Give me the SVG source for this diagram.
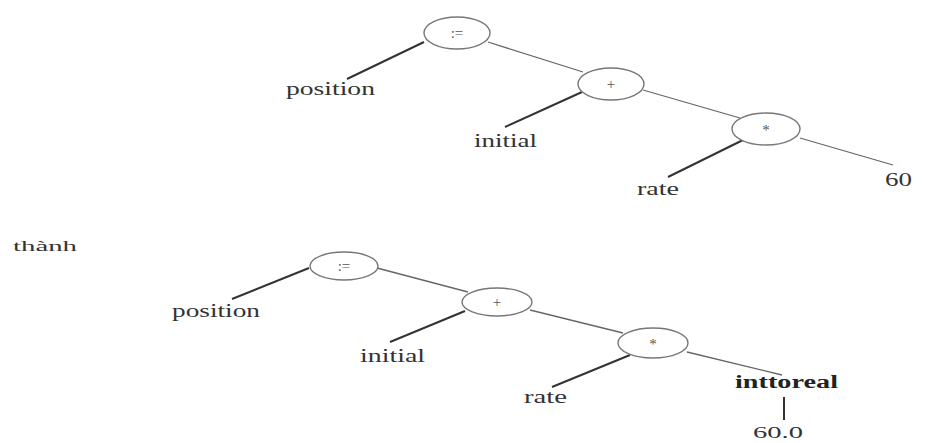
<svg xmlns="http://www.w3.org/2000/svg" width="938" height="443" viewBox="0 0 938 443">
<style>
.node ellipse{fill:#fff;stroke:#777;stroke-width:1.4}
.op{font-family:"Liberation Serif",serif;font-size:15px;fill:#555;text-anchor:middle}
.lbl{font-family:"Liberation Serif",serif;font-size:18px;fill:#333}
.bold{font-weight:bold;fill:#222}
.left{stroke:#333;stroke-width:2}
.right{stroke:#666;stroke-width:1.3}
</style>
<rect width="938" height="443" fill="#fff"/>
<g id="connectors">
<line class="left" x1="424" y1="42" x2="347" y2="79"/>
<line class="right" x1="488" y1="42" x2="583" y2="72"/>
<line class="left" x1="582" y1="92" x2="505" y2="127"/>
<line class="right" x1="643" y1="90" x2="740" y2="118"/>
<line class="left" x1="743" y1="140" x2="668" y2="177"/>
<line class="right" x1="800" y1="138" x2="893" y2="165"/>
<line class="left" x1="309" y1="268" x2="232" y2="299"/>
<line class="right" x1="377" y1="268" x2="468" y2="292"/>
<line class="left" x1="465" y1="311" x2="390" y2="342"/>
<line class="right" x1="530" y1="310" x2="623" y2="333"/>
<line class="left" x1="630" y1="355" x2="552" y2="387"/>
<line class="right" x1="687" y1="352" x2="782" y2="375"/>
<line class="left" x1="784" y1="397" x2="784" y2="420"/>
</g>
<g id="assign1" class="node"><ellipse cx="457" cy="33" rx="33" ry="16"/><text class="op" x="457" y="38">:=</text></g>
<g id="position1"><text class="lbl" x="286" y="95" textLength="89" lengthAdjust="spacingAndGlyphs">position</text></g>
<g id="plus1" class="node"><ellipse cx="611" cy="84" rx="33" ry="16"/><text class="op" x="611" y="89">+</text></g>
<g id="initial1"><text class="lbl" x="474" y="147" textLength="63" lengthAdjust="spacingAndGlyphs">initial</text></g>
<g id="mul1" class="node"><ellipse cx="766" cy="129" rx="34" ry="16"/><text class="op" x="766" y="135">*</text></g>
<g id="rate1"><text class="lbl" x="637" y="195" textLength="42" lengthAdjust="spacingAndGlyphs">rate</text></g>
<g id="sixty1"><text class="lbl" x="885" y="186" textLength="27" lengthAdjust="spacingAndGlyphs">60</text></g>
<g id="thanh"><text class="lbl" x="13" y="251" textLength="64" lengthAdjust="spacingAndGlyphs" style="font-size:15px">thành</text></g>
<g id="assign2" class="node"><ellipse cx="344" cy="266" rx="34" ry="14"/><text class="op" x="344" y="271">:=</text></g>
<g id="position2"><text class="lbl" x="172" y="317" textLength="88" lengthAdjust="spacingAndGlyphs">position</text></g>
<g id="plus2" class="node"><ellipse cx="497" cy="302" rx="35" ry="14"/><text class="op" x="497" y="307">+</text></g>
<g id="initial2"><text class="lbl" x="360" y="362" textLength="65" lengthAdjust="spacingAndGlyphs">initial</text></g>
<g id="mul2" class="node"><ellipse cx="653" cy="343" rx="35" ry="15"/><text class="op" x="653" y="349">*</text></g>
<g id="rate2"><text class="lbl" x="524" y="403" textLength="43" lengthAdjust="spacingAndGlyphs">rate</text></g>
<g id="inttoreal"><text class="lbl bold" x="735" y="388" textLength="103" lengthAdjust="spacingAndGlyphs">inttoreal</text></g>
<g id="sixty2"><text class="lbl" x="753" y="438" textLength="50" lengthAdjust="spacingAndGlyphs" style="font-size:17px">60.0</text></g>
</svg>
